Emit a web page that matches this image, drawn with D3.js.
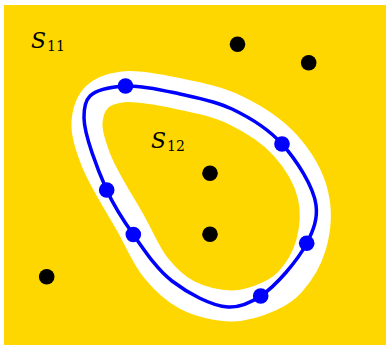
<!DOCTYPE html>
<html>
<head>
<meta charset="utf-8">
<script src="https://cdn.jsdelivr.net/npm/d3@7"></script>
<style>
  html, body { margin: 0; padding: 0; background: #ffffff; }
  svg { display: block; }
</style>
</head>
<body>
<svg id="chart" width="386" height="345"></svg>
<script>
// Closed boundary curve between the two regions (knots, plane coordinates, y up)
const boundaryKnots = [
  [121.5, 259], [176, 251], [228, 236], [278, 201], [312, 140],
  [302.7, 101.7], [256.7, 49], [224, 38], [168, 64], [129.3, 110.5],
  [102.7, 155], [80, 227], [86, 249]
];
// Centre line of the white separating band
const bandKnots = [
  [118, 258], [176, 251], [231, 235], [281, 200], [309, 150],
  [307, 100], [286, 63], [266, 49], [228, 39], [183, 50],
  [152, 77], [127, 121], [92, 185], [83, 223], [93, 248]
];
// Points lying on the boundary
const boundaryPoints = [
  [121.5, 259], [278, 201], [102.7, 155], [129.3, 110.5], [302.7, 101.7], [256.7, 49]
];
// Points inside the two regions
const regionPoints = [
  [233.5, 300.7], [304.7, 282.3], [206, 171.7], [206, 110.7], [42.7, 68.3]
];
// Region labels: base letter, subscript, anchor
const labelNames = ["S", "S"];
const labelSubs = ["11", "12"];
const labelPos = [[27, 297], [147, 197]];

const svg = d3.select("#chart");
const x = d3.scaleLinear().domain([0, 382]).range([4, 386]);
const y = d3.scaleLinear().domain([0, 340]).range([345, 5]);

// Background region
svg.append("rect")
  .attr("x", x(0)).attr("y", y(340))
  .attr("width", x(382) - x(0)).attr("height", y(0) - y(340))
  .attr("fill", "#FFD700");

const line = d3.line()
  .x(d => x(d[0])).y(d => y(d[1]))
  .curve(d3.curveCatmullRomClosed.alpha(0.5));

// White separating band
svg.append("path")
  .attr("d", line(bandKnots))
  .attr("fill", "none")
  .attr("stroke", "#ffffff")
  .attr("stroke-width", 31)
  .attr("stroke-linejoin", "round");

// Boundary curve
svg.append("path")
  .attr("d", line(boundaryKnots))
  .attr("fill", "none")
  .attr("stroke", "#0000FF")
  .attr("stroke-width", 3.5);

svg.selectAll("circle.bpt")
  .data(boundaryPoints).join("circle")
  .attr("class", "bpt")
  .attr("cx", d => x(d[0])).attr("cy", d => y(d[1]))
  .attr("r", 7.8).attr("fill", "#0000FF");

svg.selectAll("circle.rpt")
  .data(regionPoints).join("circle")
  .attr("class", "rpt")
  .attr("cx", d => x(d[0])).attr("cy", d => y(d[1]))
  .attr("r", 7.8).attr("fill", "#000000");

// Labels S_11, S_12
const labels = svg.selectAll("text.lbl")
  .data(labelNames.map((n, i) => ({ n, s: labelSubs[i], p: labelPos[i] })))
  .join("text")
  .attr("class", "lbl")
  .attr("x", d => x(d.p[0])).attr("y", d => y(d.p[1]))
  .attr("font-family", "'DejaVu Serif', serif")
  .attr("fill", "#000000");
labels.append("tspan")
  .attr("font-style", "italic").attr("font-size", 22)
  .text(d => d.n);
labels.append("tspan")
  .attr("font-size", 14).attr("dx", 1).attr("dy", 3)
  .text(d => d.s);
</script>
</body>
</html>
